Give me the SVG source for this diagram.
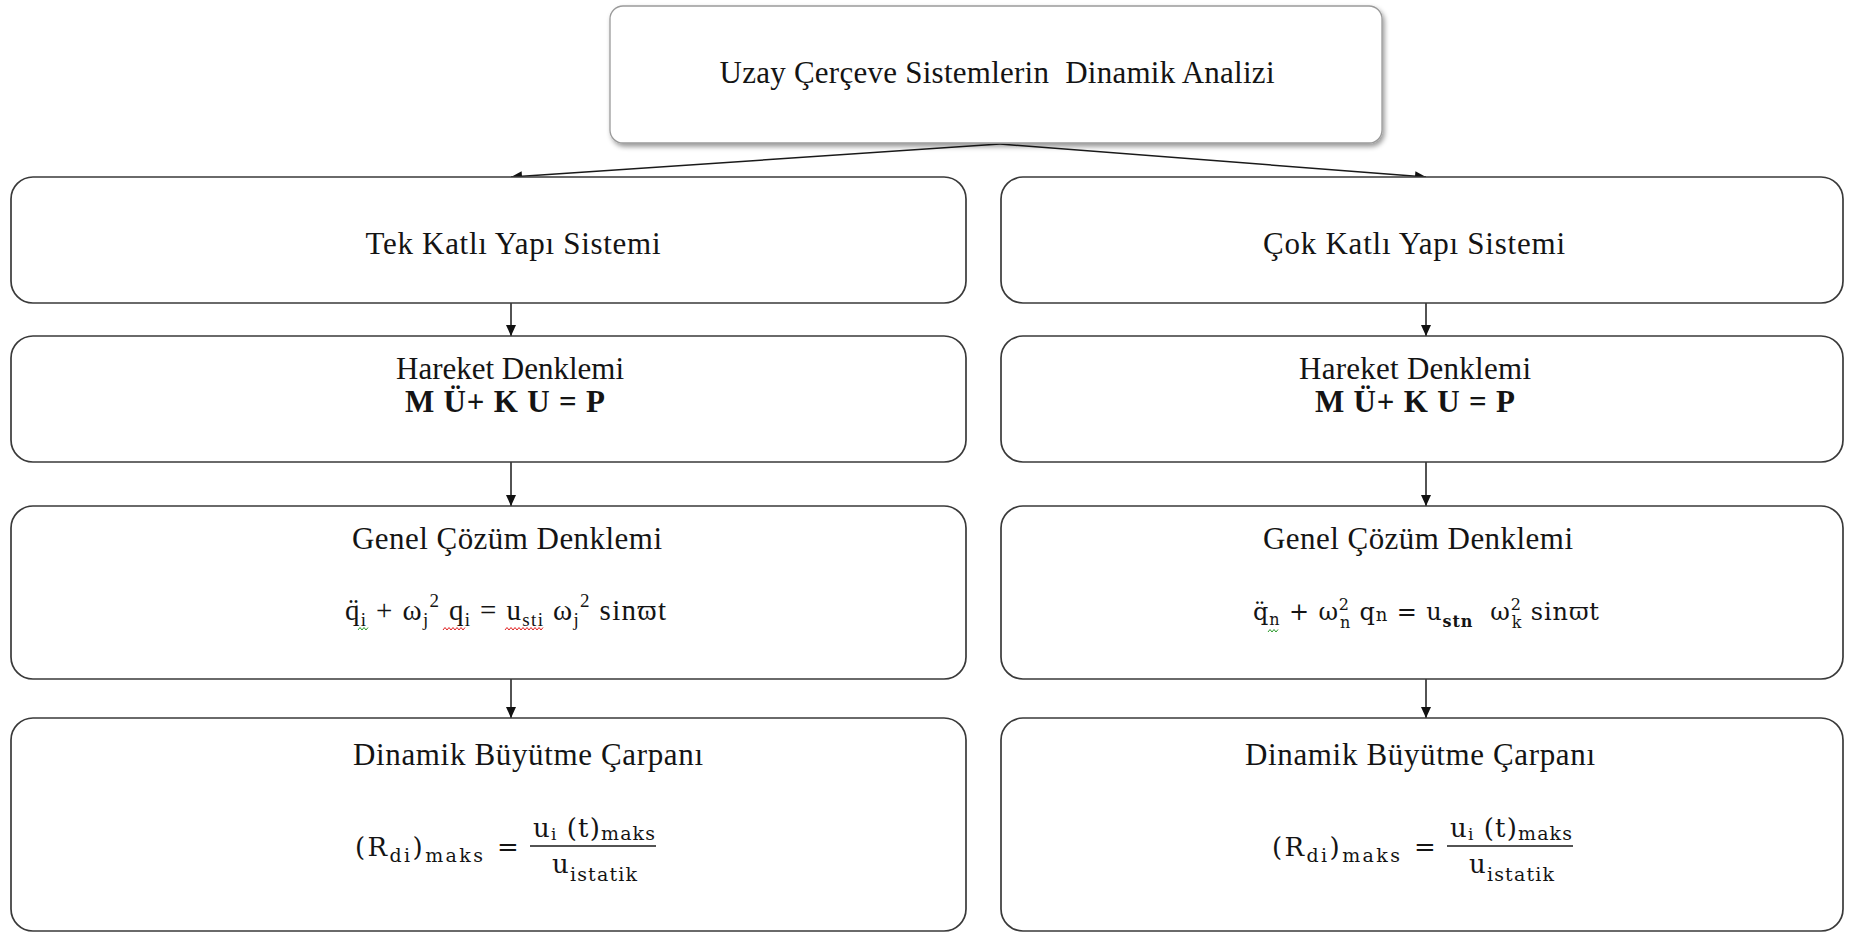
<svg xmlns="http://www.w3.org/2000/svg" width="1851" height="934" viewBox="0 0 1851 934">
<style>
.box{fill:#ffffff;stroke:#3a3a3a;stroke-width:1.7}
.top{fill:#ffffff;stroke:#9a9a9a;stroke-width:1.3}
.t{font-family:"Liberation Serif","Times New Roman",serif;font-size:31px;fill:#141414;text-anchor:middle;white-space:pre}
.b{font-family:"Liberation Serif","Times New Roman",serif;font-size:31px;font-weight:bold;fill:#141414;text-anchor:middle}
.eq{font-family:"Liberation Serif","DejaVu Serif",serif;font-size:29px;fill:#141414;white-space:pre}
.m{font-family:"DejaVu Serif",serif;font-size:24px;fill:#141414;white-space:pre}
.f{font-family:"DejaVu Serif",serif;font-size:26px;fill:#141414}
.conn{stroke:#1a1a1a;stroke-width:1.5;fill:none}
.wr{stroke:#e02020;stroke-width:1;fill:none}
.wg{stroke:#2a9a2a;stroke-width:1;fill:none}
</style>
<defs>
<marker id="ah" markerWidth="12" markerHeight="10" refX="11" refY="5" orient="auto" markerUnits="userSpaceOnUse">
<path d="M0,0 L11,5 L0,10 Z" fill="#111"/>
</marker>
<filter id="sh" x="-5%" y="-10%" width="110%" height="130%">
<feDropShadow dx="2" dy="3" stdDeviation="2.5" flood-color="#000" flood-opacity="0.4"/>
</filter>
</defs>
<rect width="1851" height="934" fill="#ffffff"/>

<g id="connectors">
<polyline class="conn" points="1000,144 511,177" marker-end="url(#ah)"/>
<polyline class="conn" points="1000,144 1426,177" marker-end="url(#ah)"/>
<line class="conn" x1="511" y1="303" x2="511" y2="336" marker-end="url(#ah)"/>
<line class="conn" x1="511" y1="462" x2="511" y2="506" marker-end="url(#ah)"/>
<line class="conn" x1="511" y1="679" x2="511" y2="718" marker-end="url(#ah)"/>
<line class="conn" x1="1426" y1="303" x2="1426" y2="336" marker-end="url(#ah)"/>
<line class="conn" x1="1426" y1="462" x2="1426" y2="506" marker-end="url(#ah)"/>
<line class="conn" x1="1426" y1="679" x2="1426" y2="718" marker-end="url(#ah)"/>
</g>

<g id="node-root">
<rect class="top" x="610" y="6" width="772" height="137" rx="13" filter="url(#sh)"/>
<text class="t" x="997" y="83" textLength="555" lengthAdjust="spacing">Uzay Çerçeve Sistemlerin  Dinamik Analizi</text>
</g>

<g id="node-tek">
<rect class="box" x="11" y="177" width="955" height="126" rx="22"/>
<text class="t" x="513" y="254" textLength="295" lengthAdjust="spacing">Tek Katlı Yapı Sistemi</text>
</g>
<g id="node-cok">
<rect class="box" x="1001" y="177" width="842" height="126" rx="22"/>
<text class="t" x="1414" y="254" textLength="302" lengthAdjust="spacing">Çok Katlı Yapı Sistemi</text>
</g>

<g id="node-hareket-1">
<rect class="box" x="11" y="336" width="955" height="126" rx="22"/>
<text class="t" x="510" y="379" textLength="228" lengthAdjust="spacing">Hareket Denklemi</text>
<text class="b" x="505" y="412" textLength="200" lengthAdjust="spacing">M Ü+ K U = P</text>
</g>
<g id="node-hareket-2">
<rect class="box" x="1001" y="336" width="842" height="126" rx="22"/>
<text class="t" x="1415" y="379" textLength="232" lengthAdjust="spacing">Hareket Denklemi</text>
<text class="b" x="1415" y="412" textLength="200" lengthAdjust="spacing">M Ü+ K U = P</text>
</g>

<g id="node-genel-1">
<rect class="box" x="11" y="506" width="955" height="173" rx="22"/>
<text class="t" x="507" y="549" textLength="310" lengthAdjust="spacing">Genel Çözüm Denklemi</text>
<text class="eq" x="345" y="620" textLength="321" lengthAdjust="spacing">q̈<tspan font-size="19" dy="6">i</tspan><tspan dy="-6"> + ω</tspan><tspan font-size="19" dy="6">j</tspan><tspan font-size="19" dy="-19">2</tspan><tspan dy="13"> q</tspan><tspan font-size="19" dy="6">i</tspan><tspan dy="-6"> = u</tspan><tspan font-size="19" dy="6">sti</tspan><tspan dy="-6"> ω</tspan><tspan font-size="19" dy="6">j</tspan><tspan font-size="19" dy="-19">2</tspan><tspan dy="13"> sinϖt</tspan></text>
<polyline class="wg" points="358,630 360,627.5 362,630 364,627.5 366,630 368,627.5"/>
<polyline class="wr" points="443,630 445,627.5 447,630 449,627.5 451,630 453,627.5 455,630 457,627.5 459,630 461,627.5 463,630 465,627.5"/>
<polyline class="wr" points="505,630 507,627.5 509,630 511,627.5 513,630 515,627.5 517,630 519,627.5 521,630 523,627.5 525,630 527,627.5 529,630 531,627.5 533,630 535,627.5 537,630 539,627.5 541,630 543,627.5"/>
</g>
<g id="node-genel-2">
<rect class="box" x="1001" y="506" width="842" height="173" rx="22"/>
<text class="t" x="1418" y="549" textLength="310" lengthAdjust="spacing">Genel Çözüm Denklemi</text>
<text class="m" x="1253" y="620" textLength="346" lengthAdjust="spacing">q̈<tspan font-size="16" dy="5">n</tspan><tspan dy="-5"> + ω</tspan><tspan font-size="16" dy="-10">2</tspan><tspan font-size="16" dx="-10" dy="18">n</tspan><tspan dy="-8"> q</tspan><tspan font-size="18" dy="1">n</tspan><tspan dy="-1"> = u</tspan><tspan font-size="16" font-weight="bold" dy="7">stn</tspan><tspan dy="-7">  ω</tspan><tspan font-size="16" dy="-10">2</tspan><tspan font-size="16" dx="-10" dy="18">k</tspan><tspan dy="-8"> sinϖt</tspan></text>
<polyline class="wg" points="1268,632 1270,629.5 1272,632 1274,629.5 1276,632 1278,629.5"/>
</g>

<g id="node-dinamik-1">
<rect class="box" x="11" y="718" width="955" height="213" rx="22"/>
<text class="t" x="528" y="765" textLength="350" lengthAdjust="spacing">Dinamik Büyütme Çarpanı</text>
<g id="formula-1">
<text class="f" x="355" y="856" textLength="128" lengthAdjust="spacing">(R<tspan font-size="19" dy="6">di</tspan><tspan dy="-6">)</tspan><tspan font-size="19" dy="6">maks</tspan></text>
<text class="f" x="497" y="856">=</text>
<line x1="530" y1="846" x2="656" y2="846" stroke="#1a1a1a" stroke-width="1.7"/>
<text class="f" x="533" y="837" textLength="122" lengthAdjust="spacing">u<tspan font-size="17" dy="3">i</tspan><tspan dy="-3"> (t)</tspan><tspan font-size="19" dy="3">maks</tspan></text>
<text class="f" x="552" y="873" textLength="85" lengthAdjust="spacing">u<tspan font-size="19" dy="8">istatik</tspan></text>
</g>
</g>
<g id="node-dinamik-2">
<rect class="box" x="1001" y="718" width="842" height="213" rx="22"/>
<text class="t" x="1420" y="765" textLength="350" lengthAdjust="spacing">Dinamik Büyütme Çarpanı</text>
<g id="formula-2" transform="translate(917,0)">
<text class="f" x="355" y="856" textLength="128" lengthAdjust="spacing">(R<tspan font-size="19" dy="6">di</tspan><tspan dy="-6">)</tspan><tspan font-size="19" dy="6">maks</tspan></text>
<text class="f" x="497" y="856">=</text>
<line x1="530" y1="846" x2="656" y2="846" stroke="#1a1a1a" stroke-width="1.7"/>
<text class="f" x="533" y="837" textLength="122" lengthAdjust="spacing">u<tspan font-size="17" dy="3">i</tspan><tspan dy="-3"> (t)</tspan><tspan font-size="19" dy="3">maks</tspan></text>
<text class="f" x="552" y="873" textLength="85" lengthAdjust="spacing">u<tspan font-size="19" dy="8">istatik</tspan></text>
</g>
</g>
</svg>
